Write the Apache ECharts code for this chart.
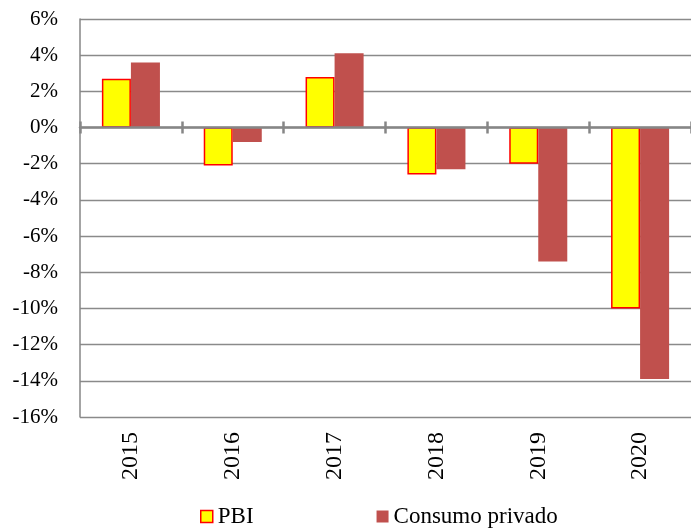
<!DOCTYPE html>
<html>
<head>
    <meta charset="utf-8"/>
    <title>PBI y Consumo privado</title>
    <script src="https://cdn.jsdelivr.net/npm/echarts@6/dist/echarts.min.js"></script>
    <style>
        html, body { margin: 0; padding: 0; background: #fff; }
        #main { width: 691px; height: 528px; }
    </style>
</head>
<body>
<div id="main"></div>
<script>
    // datos
    let years = ['2015', '2016', '2017', '2018', '2019', '2020'];
    let pbi = [2.7, -2.1, 2.8, -2.6, -2.0, -10.0];
    let consumo = [3.6, -0.8, 4.1, -2.3, -7.4, -13.9];
    let yTicks = [-16, 6, 2]; // min, max, paso

    let serif = "'Liberation Serif', 'Times New Roman', serif";
    let gris = '#868686';

    let myChart = echarts.init(document.getElementById('main'));
    let option = {
        animation: false,
        textStyle: { fontFamily: serif },
        grid: { left: 80, right: 0, top: 19, bottom: 111 },
        legend: {
            left: 195,
            top: 500,
            itemGap: 123,
            itemWidth: 12,
            itemHeight: 12,
            textStyle: { fontFamily: serif, fontSize: 23, color: '#000' },
            data: [
                { name: 'PBI', icon: 'rect', itemStyle: { color: '#ffff00', borderColor: '#ff0000', borderWidth: 1.5 } },
                { name: 'Consumo privado', icon: 'rect' }
            ]
        },
        xAxis: [
            {
                type: 'category',
                data: years,
                position: 'bottom',
                axisLine: { show: false, onZero: false },
                axisTick: { show: false },
                axisLabel: { rotate: 90, margin: 15, fontSize: 24, fontFamily: serif, color: '#000' }
            },
            {
                // eje en cero, marcas hacia abajo
                type: 'category',
                data: years,
                position: 'bottom',
                z: 5,
                axisLine: { show: true, onZero: true, onZeroAxisIndex: 0, lineStyle: { color: gris, width: 2.5 } },
                axisTick: { show: true, length: 6, lineStyle: { color: gris, width: 2.5 } },
                axisLabel: { show: false }
            },
            {
                // marcas hacia arriba
                type: 'category',
                data: years,
                position: 'bottom',
                z: 5,
                axisLine: { show: false, onZero: true, onZeroAxisIndex: 0 },
                axisTick: { show: true, inside: true, length: 6, lineStyle: { color: gris, width: 2.5 } },
                axisLabel: { show: false }
            }
        ],
        yAxis: {
            type: 'value',
            min: yTicks[0],
            max: yTicks[1],
            interval: yTicks[2],
            axisLine: { show: true, lineStyle: { color: gris, width: 1.5 } },
            axisTick: { show: false },
            axisLabel: {
                formatter: '{value}%',
                margin: 22,
                fontSize: 21,
                fontFamily: serif,
                color: '#000'
            },
            splitLine: { lineStyle: { color: '#8a8a8a', width: 1.3 } }
        },
        series: [
            {
                name: 'PBI',
                type: 'bar',
                xAxisIndex: 0,
                data: pbi,
                barGap: 0,
                barCategoryGap: '43%',
                itemStyle: { color: '#ffff00', borderColor: '#ff0000', borderWidth: 1.5 }
            },
            {
                name: 'Consumo privado',
                type: 'bar',
                xAxisIndex: 0,
                data: consumo,
                barGap: 0,
                barCategoryGap: '43%',
                itemStyle: { color: '#c0504d' }
            }
        ]
    };
    myChart.setOption(option);
</script>
</body>
</html>
